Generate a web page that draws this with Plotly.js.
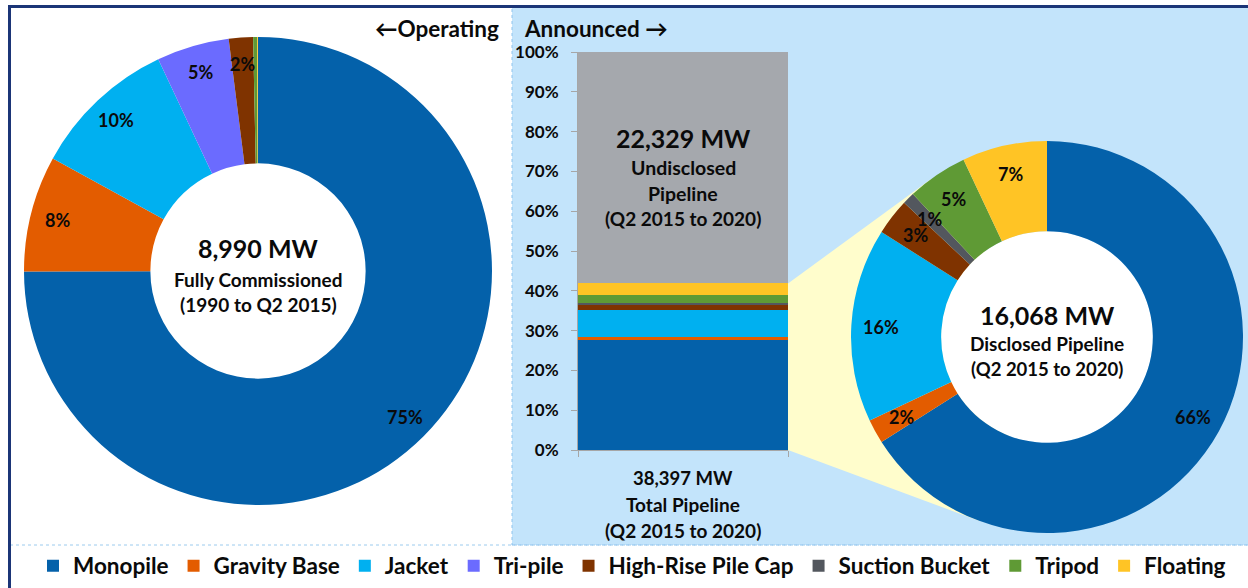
<!DOCTYPE html>
<html><head><meta charset="utf-8">
<script src="https://cdn.plot.ly/plotly-3.0.1.min.js"></script>
<style>html,body{margin:0;padding:0;background:#fff;} #chart{width:1248px;height:588px;}</style>
</head><body><div id="chart"></div>
<script>
// ---------------- data ----------------
const types = ['Monopile','Gravity Base','Jacket','Tri-pile','High-Rise Pile Cap','Suction Bucket','Tripod','Floating'];
const typeColors = ['#0461aa','#e35c00','#00b0f0','#6b6bff','#7f3300','#53575e','#5f9a35','#ffc425'];
// Operating (fully commissioned 1990 to Q2 2015), MW
const operatingMW = [6740, 720, 900, 450, 150, 0, 25, 5];
// Disclosed pipeline (Q2 2015 to 2020), MW
const disclosedMW = [10605, 321, 2571, 0, 482, 161, 803, 1125];
// Undisclosed pipeline, MW
const undisclosedMW = 22329;
const undisclosedColor = '#a5a8ad';
const yTickVals = [0,10,20,30,40,50,60,70,80,90,100];
const yTickText = ['0%','10%','20%','30%','40%','50%','60%','70%','80%','90%','100%'];

// ---------------- layout helpers ----------------
const W = 1248, H = 588;
const fx = x => x / W;
const fy = y => 1 - y / H;
const FONT = 'Lato, "Open Sans", sans-serif';
const INK = '#0a0a0a';

const leftPie  = {cx: 258,  cy: 271, r: 234, hole: 0.46, labelR: 0.885};
const rightPie = {cx: 1047, cy: 337, r: 196, hole: 0.54, labelR: 0.85};
const barBox   = {x0: 578, x1: 788, top: 52, bottom: 450};

const sum = a => a.reduce((s, v) => s + v, 0);
const opTotal = sum(operatingMW);
const discTotal = sum(disclosedMW);
const pipeTotal = discTotal + undisclosedMW;

function pieDomain(p) {
  return {x: [fx(p.cx - p.r), fx(p.cx + p.r)], y: [fy(p.cy + p.r), fy(p.cy - p.r)]};
}

// ---------------- traces ----------------
const traces = [];
function pieTrace(vals, p) {
  return {
    type: 'pie', values: vals, labels: types, sort: false, direction: 'clockwise', rotation: 0,
    hole: p.hole, domain: pieDomain(p), textinfo: 'none', showlegend: false,
    marker: {colors: typeColors, line: {width: 0}}, hoverinfo: 'label+value+percent'
  };
}
traces.push(pieTrace(operatingMW, leftPie));
traces.push(pieTrace(disclosedMW, rightPie));

types.forEach((t, i) => {
  traces.push({
    type: 'bar', x: [0], y: [disclosedMW[i] / pipeTotal * 100], name: t,
    marker: {color: typeColors[i], line: {width: 0}}, xaxis: 'x', yaxis: 'y', showlegend: true
  });
});
traces.push({
  type: 'bar', x: [0], y: [undisclosedMW / pipeTotal * 100], name: 'Undisclosed',
  marker: {color: undisclosedColor, line: {width: 0}}, xaxis: 'x', yaxis: 'y', showlegend: false
});

// ---------------- annotations ----------------
const annotations = [];
function txt(x, y, text, size, extra) {
  annotations.push(Object.assign({
    xref: 'paper', yref: 'paper', x: fx(x), y: fy(y), text: text, showarrow: false,
    xanchor: 'center', yanchor: 'middle', borderpad: 0,
    font: {family: FONT, size: size, color: INK, weight: 'bold'}
  }, extra || {}));
}
function pieLabels(vals, p, minPct, size) {
  const total = sum(vals);
  let cum = 0;
  vals.forEach(v => {
    const pct = v / total * 100;
    if (pct >= minPct) {
      const a = 2 * Math.PI * (cum + v / 2) / total;
      const R = p.r * p.labelR;
      txt(p.cx + R * Math.sin(a), p.cy - R * Math.cos(a), Math.round(pct) + '%', size);
    }
    cum += v;
  });
}
pieLabels(operatingMW, leftPie, 1, 18);
pieLabels(disclosedMW, rightPie, 0.5, 18);

const fmt = n => n.toLocaleString('en-US');
// left centre
txt(leftPie.cx, 248, fmt(opTotal) + ' MW', 25);
txt(leftPie.cx, 279, 'Fully Commissioned', 19);
txt(leftPie.cx, 304, '(1990 to Q2 2015)', 19);
// right centre
txt(rightPie.cx, 315, fmt(discTotal) + ' MW', 25);
txt(rightPie.cx, 343, 'Disclosed Pipeline', 19);
txt(rightPie.cx, 369, '(Q2 2015 to 2020)', 18.5);
// bar texts
const barCx = (barBox.x0 + barBox.x1) / 2;
txt(barCx, 138, fmt(undisclosedMW) + ' MW', 25);
txt(barCx, 167, 'Undisclosed', 19.5);
txt(barCx, 193, 'Pipeline', 19.5);
txt(barCx, 218, '(Q2 2015 to 2020)', 19);
txt(barCx, 478, fmt(pipeTotal) + ' MW', 18.5);
txt(barCx, 504, 'Total Pipeline', 19);
txt(barCx, 530, '(Q2 2015 to 2020)', 19);
// section headers
txt(500, 28, '\u2190Operating', 22.5, {xanchor: 'right'});
txt(523, 28, 'Announced \u2192', 22.5, {xanchor: 'left'});

// ---------------- shapes ----------------
const shapes = [];
// blue "announced" panel
shapes.push({type: 'rect', xref: 'paper', yref: 'paper', layer: 'below',
  x0: fx(512), x1: fx(1250), y0: fy(545), y1: fy(7),
  fillcolor: '#c3e4fb', line: {color: '#8fc4ee', width: 1, dash: 'dot'}});
// yellow connector wedge: tangents from bar's disclosed corners to right donut
function tangent(px, py, c, sign) {
  const dx = c.cx - px, dy = c.cy - py;
  const d = Math.hypot(dx, dy);
  const base = Math.atan2(dy, dx);
  const alpha = Math.asin(c.r / d);
  const L = Math.sqrt(d * d - c.r * c.r);
  const ang = base + sign * alpha;
  return [px + L * Math.cos(ang), py + L * Math.sin(ang)];
}
const discTopPx = barBox.bottom - (discTotal / pipeTotal) * (barBox.bottom - barBox.top);
const t1 = tangent(barBox.x1, discTopPx, rightPie, -1);
const t2 = tangent(barBox.x1, barBox.bottom, rightPie, 1);
const P = (x, y) => fx(x) + ',' + fy(y);
shapes.push({type: 'path', xref: 'paper', yref: 'paper', layer: 'below',
  path: 'M' + P(barBox.x1, discTopPx) + ' L' + P(t1[0], t1[1]) + ' L' + P(rightPie.cx, rightPie.cy) +
        ' L' + P(t2[0], t2[1]) + ' L' + P(barBox.x1, barBox.bottom) + ' Z',
  fillcolor: '#fffdcc', line: {width: 0}});
// white holes behind donuts
[leftPie, rightPie].forEach(p => {
  const hr = p.r * p.hole;
  shapes.push({type: 'circle', xref: 'paper', yref: 'paper', layer: 'below',
    x0: fx(p.cx - hr), x1: fx(p.cx + hr), y0: fy(p.cy + hr), y1: fy(p.cy - hr),
    fillcolor: '#ffffff', line: {width: 0}});
});
// legend separator (dotted)
shapes.push({type: 'line', xref: 'paper', yref: 'paper', layer: 'above',
  x0: fx(10), x1: 1, y0: fy(545), y1: fy(545), line: {color: '#9ccbee', width: 1, dash: 'dot'}});
// navy frame (top + left)
shapes.push({type: 'line', xref: 'paper', yref: 'paper', layer: 'above',
  x0: fx(8), x1: 1, y0: fy(6.5), y1: fy(6.5), line: {color: '#1b3577', width: 3}});
shapes.push({type: 'line', xref: 'paper', yref: 'paper', layer: 'above',
  x0: fx(9.5), x1: fx(9.5), y0: 0, y1: fy(5), line: {color: '#1b3577', width: 3}});

// ---------------- layout ----------------
const layout = {
  width: W, height: H,
  margin: {l: 0, r: 0, t: 0, b: 0, pad: 0},
  paper_bgcolor: '#ffffff', plot_bgcolor: 'rgba(0,0,0,0)',
  barmode: 'stack', bargap: 0,
  font: {family: FONT, color: INK},
  xaxis: {domain: [fx(barBox.x0), fx(barBox.x1)], range: [-0.5, 0.5], fixedrange: true,
    showgrid: false, zeroline: false, showline: true, linecolor: '#a6a6a6', linewidth: 1,
    ticks: 'outside', tickvals: [-0.5, 0.5], ticklen: 6, tickcolor: '#a6a6a6', showticklabels: false},
  yaxis: {domain: [fy(barBox.bottom), fy(barBox.top)], range: [0, 100], fixedrange: true,
    tickmode: 'array', tickvals: yTickVals, ticktext: yTickText, showgrid: false, zeroline: false,
    showline: true, linecolor: '#a6a6a6', linewidth: 1, ticks: 'outside', ticklen: 6, tickcolor: '#a6a6a6',
    ticklabelstandoff: 9,
    tickfont: {family: FONT, size: 17, color: INK, weight: 'bold'}},
  showlegend: true,
  legend: {orientation: 'h', x: fx(33), xanchor: 'left', y: fy(566), yanchor: 'middle',
    traceorder: 'normal', bgcolor: 'rgba(0,0,0,0)', borderwidth: 0,
    font: {family: FONT, size: 22.5, color: INK, weight: 'bold'}, itemclick: false, itemdoubleclick: false},
  annotations: annotations,
  shapes: shapes
};

Plotly.newPlot('chart', traces, layout, {displayModeBar: false, staticPlot: true});
</script>
</body></html>
